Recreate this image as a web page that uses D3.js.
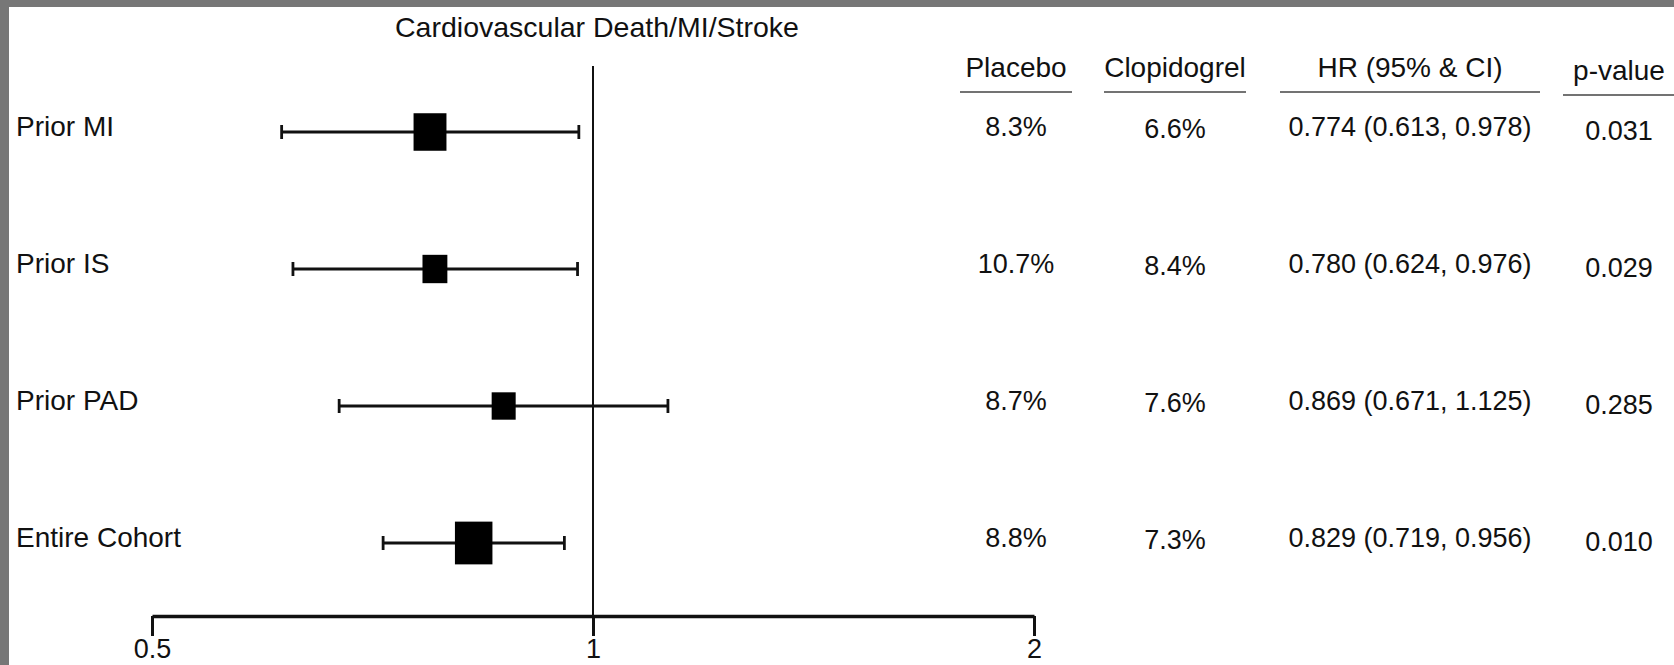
<!DOCTYPE html>
<html>
<head>
<meta charset="utf-8">
<script src="https://cdn.jsdelivr.net/npm/d3@7"></script>
<style>
  html, body { margin: 0; padding: 0; background: #fff; }
  svg { display: block; }
  text { font-family: "Liberation Sans", Arial, Helvetica, sans-serif; fill: #111; }
</style>
</head>
<body>
<svg id="chart" width="1674" height="665"></svg>
<script>
// Subgroups and their outcome figures
const rows = ["Prior MI", "Prior IS", "Prior PAD", "Entire Cohort"];
const hr = [0.774, 0.780, 0.869, 0.829];
const ciLow = [0.613, 0.624, 0.671, 0.719];
const ciHigh = [0.978, 0.976, 1.125, 0.956];
const placeboRate = [8.3, 10.7, 8.7, 8.8];
const clopidogrelRate = [6.6, 8.4, 7.6, 7.3];
const pValues = [0.031, 0.029, 0.285, 0.010];
// relative weight of each estimate (box area)
const weight = [0.77, 0.44, 0.41, 1.0];

const xTicks = [0.5, 1, 2];
const columnHeaders = ["Placebo", "Clopidogrel", "HR (95% & CI)", "p-value"];
const title = "Cardiovascular Death/MI/Stroke";

const W = 1674, H = 665;
const svg = d3.select("#chart");

// scanner frame along the top and left edges
svg.append("rect").attr("x", 0).attr("y", 0).attr("width", W).attr("height", 7).attr("fill", "#777");
svg.append("rect").attr("x", 0).attr("y", 0).attr("width", 9).attr("height", H).attr("fill", "#777");

const axisY = 616;
const x = d3.scaleLog().domain([0.5, 2]).range([152, 1034]);
const y = d3.scalePoint().domain(rows).range([132, 543]);
const boxW = d3.scaleSqrt().domain([0, 1]).range([0, 37.5]);
const boxAspect = 1.14;

const f1 = d3.format(".1f"), f3 = d3.format(".3f");

// title
svg.append("text")
  .attr("x", 597).attr("y", 37)
  .attr("text-anchor", "middle")
  .attr("font-size", 28.5)
  .text(title);

// line of no effect
svg.append("line")
  .attr("x1", x(1)).attr("x2", x(1))
  .attr("y1", 66).attr("y2", axisY)
  .attr("stroke", "#111").attr("stroke-width", 2);

// axis
const axis = d3.axisBottom(x)
  .tickValues(xTicks)
  .tickFormat(d => String(d))
  .tickSize(20)
  .tickSizeOuter(0)
  .tickPadding(3);

const gAxis = svg.append("g")
  .attr("transform", `translate(0,${axisY})`)
  .call(axis);
gAxis.select(".domain").attr("stroke", "#111").attr("stroke-width", 3.5);
gAxis.selectAll(".tick line").attr("stroke", "#111").attr("stroke-width", 3);
gAxis.selectAll(".tick text")
  .attr("font-size", 27)
  .attr("font-family", "Liberation Sans, Arial, sans-serif")
  .attr("fill", "#111");

// row labels
svg.append("g").selectAll("text")
  .data(rows)
  .join("text")
  .attr("x", 16)
  .attr("y", d => y(d) + 4)
  .attr("font-size", 28)
  .text(d => d);

// confidence intervals and point estimates
const gCI = svg.append("g");
rows.forEach((r, i) => {
  const yy = y(r);
  gCI.append("line")
    .attr("x1", x(ciLow[i])).attr("x2", x(ciHigh[i]))
    .attr("y1", yy).attr("y2", yy)
    .attr("stroke", "#111").attr("stroke-width", 2.8);
  [ciLow[i], ciHigh[i]].forEach(v => {
    gCI.append("line")
      .attr("x1", x(v)).attr("x2", x(v))
      .attr("y1", yy - 7).attr("y2", yy + 7)
      .attr("stroke", "#111").attr("stroke-width", 2.8);
  });
  const w = boxW(weight[i]), h = w * boxAspect;
  gCI.append("rect")
    .attr("x", x(hr[i]) - w / 2)
    .attr("y", yy - h / 2)
    .attr("width", w).attr("height", h)
    .attr("fill", "#000");
});

// results table
const columns = [
  { cx: 1016, half: 56, dy: 0, values: placeboRate.map(v => f1(v) + "%") },
  { cx: 1175, half: 71, dy: 2, values: clopidogrelRate.map(v => f1(v) + "%") },
  { cx: 1410, half: 130, dy: 0, values: hr.map((v, i) => `${f3(v)} (${f3(ciLow[i])}, ${f3(ciHigh[i])})`) },
  { cx: 1619, half: 56, dy: 4, values: pValues.map(v => f3(v)) }
];

const gTable = svg.append("g");
columns.forEach((c, j) => {
  const headDy = j === 3 ? 3 : 0;
  gTable.append("text")
    .attr("x", c.cx).attr("y", 77 + headDy)
    .attr("text-anchor", "middle")
    .attr("font-size", 28)
    .text(columnHeaders[j]);
  gTable.append("line")
    .attr("x1", c.cx - c.half).attr("x2", c.cx + c.half)
    .attr("y1", 92 + headDy).attr("y2", 92 + headDy)
    .attr("stroke", "#444").attr("stroke-width", 1.6);
  gTable.selectAll(null)
    .data(c.values)
    .join("text")
    .attr("x", c.cx)
    .attr("y", (d, i) => y(rows[i]) + 4 + c.dy)
    .attr("text-anchor", "middle")
    .attr("font-size", 27)
    .text(d => d);
});
</script>
</body>
</html>
